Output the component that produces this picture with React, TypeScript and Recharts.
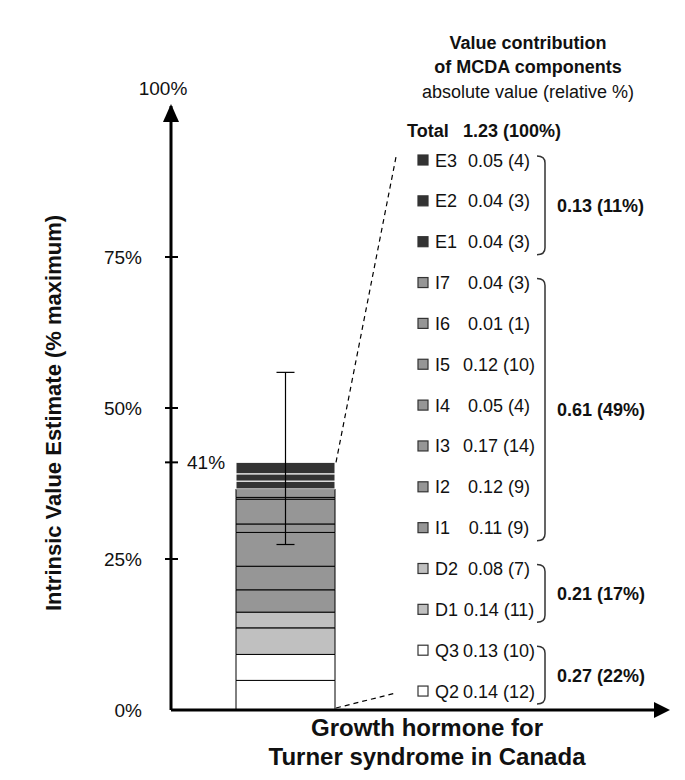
import { Bar, ComposedChart, ErrorBar, Scatter, XAxis, YAxis } from "recharts";

// one stacked column, segments bottom -> top
const categories = ["GH Turner Canada"];
const components = ["Q2", "Q3", "D1", "D2", "I1", "I2", "I3", "I4", "I5", "I6", "I7", "E1", "E2", "E3"];
const segmentPct = [4.9, 4.3, 4.4, 2.6, 3.7, 3.9, 5.6, 1.4, 4.1, 0.3, 1.4, 1.3, 1.2, 1.9];
const absValues = ["0.14", "0.13", "0.14", "0.08", "0.11", "0.12", "0.17", "0.05", "0.12", "0.01", "0.04", "0.04", "0.04", "0.05"];
const relPct = [12, 10, 11, 7, 9, 9, 14, 4, 10, 1, 3, 3, 3, 4];

const groupNames = ["Q", "D", "I", "E"];
const groupAbs = ["0.27", "0.21", "0.61", "0.13"];
const groupPct = [22, 17, 49, 11];

const totalPct = 41;
const totalAbs = "1.23";
const errLow = 27.4;
const errHigh = 55.9;
const yTicks = [0, 25, 41, 50, 75, 100];

const FILL: Record<string, string> = { Q: "#ffffff", D: "#c0c0c0", I: "#969696", E: "#333333" };
const STROKE: Record<string, string> = { Q: "#000", D: "#000", I: "#000", E: "#fff" };

const FONT = '"Liberation Sans", Arial, sans-serif';
const W = 685;
const H = 780;
const PLOT_TOP = 106;
const PLOT_BOTTOM = 710;
const AXIS_X = 171;
const X_END = 655;
const BAR_LEFT = 236;
const BAR_RIGHT = 335;

const ROW_TOP = 160;
const ROW_STEP = 40.85;

const row: Record<string, any> = { name: categories[0], total: totalPct, err: [totalPct - errLow, errHigh - totalPct] };
components.forEach((c, i) => (row[c] = segmentPct[i]));
const data = [row];

const yOf = (v: number) => PLOT_BOTTOM - (v / 100) * (PLOT_BOTTOM - PLOT_TOP);

function YTick({ x, y, payload }: any) {
  const v = payload.value;
  const mark = v > 0 && v < 100;
  let label;
  if (v === totalPct) {
    label = (
      <text x={x + 16} y={y} dy="0.36em" textAnchor="start">
        {v}%
      </text>
    );
  } else if (v === 100) {
    label = (
      <text x={x - 8} y={y - 18} dy="0.36em" textAnchor="middle">
        {v}%
      </text>
    );
  } else {
    label = (
      <text x={x - 29} y={y} dy="0.36em" textAnchor="end">
        {v}%
      </text>
    );
  }
  return (
    <g fontSize={19} fill="#111" fontFamily={FONT}>
      {mark && <line x1={x - 6} x2={x + 7} y1={y} y2={y} stroke="#000" strokeWidth={2} />}
      {label}
    </g>
  );
}

function Overlay() {
  const n = components.length;
  const rowY = (i: number) => ROW_TOP + (n - 1 - i) * ROW_STEP;
  return (
    <svg width={W} height={H} style={{ position: "absolute", left: 0, top: 0, pointerEvents: "none" }} fontFamily={FONT}>
      {/* axis arrows */}
      <polygon points={`${AXIS_X},104 ${AXIS_X - 8},122 ${AXIS_X + 8},122`} fill="#000" />
      <polygon points={`670,${PLOT_BOTTOM} ${X_END - 1},${PLOT_BOTTOM - 8} ${X_END - 1},${PLOT_BOTTOM + 8}`} fill="#000" />

      {/* axis titles */}
      <text
        x={53}
        y={413}
        transform="rotate(-90 53 413)"
        textAnchor="middle"
        dominantBaseline="central"
        fontSize={22}
        fontWeight="bold"
        fill="#111"
      >
        Intrinsic Value Estimate (% maximum)
      </text>
      <text x={427} y={736} textAnchor="middle" fontSize={24} fontWeight="bold" fill="#111">
        Growth hormone for
      </text>
      <text x={427} y={765} textAnchor="middle" fontSize={24} fontWeight="bold" fill="#111">
        Turner syndrome in Canada
      </text>

      {/* dashed leaders */}
      <line x1={BAR_RIGHT + 1} y1={yOf(totalPct)} x2={396} y2={157} stroke="#000" strokeWidth={1.2} strokeDasharray="5 4" />
      <line x1={BAR_RIGHT + 1} y1={PLOT_BOTTOM - 2} x2={396} y2={693} stroke="#000" strokeWidth={1.2} strokeDasharray="5 4" />

      {/* panel title */}
      <g fontSize={18} fill="#111" textAnchor="middle">
        <text x={528} y={49} fontWeight="bold">Value contribution</text>
        <text x={528} y={73} fontWeight="bold">of MCDA components</text>
        <text x={528} y={98}>absolute value (relative %)</text>
      </g>
      <g fontSize={18} fill="#111" fontWeight="bold">
        <text x={407} y={137}>Total</text>
        <text x={463} y={137}>
          {totalAbs} (100%)
        </text>
      </g>

      {/* legend rows */}
      {components.map((c, i) => {
        const g = c[0];
        const cy = rowY(i);
        return (
          <g key={c} fontSize={18} fill="#111">
            <rect x={418} y={cy - 5} width={10} height={10} fill={FILL[g]} stroke="#333" strokeWidth={1.2} />
            <text x={435} y={cy + 6.5}>{c}</text>
            <text x={499} y={cy + 6.5} textAnchor="middle">
              {absValues[i]} ({relPct[i]})
            </text>
          </g>
        );
      })}

      {/* group brackets */}
      {groupNames.map((g, gi) => {
        const idx = components.map((c, i) => (c[0] === g ? i : -1)).filter((i) => i >= 0);
        const yTop = Math.min(...idx.map(rowY)) - 4;
        const yBot = Math.max(...idx.map(rowY)) + 13;
        const mid = (yTop + yBot) / 2;
        return (
          <g key={g}>
            <path
              d={`M 537 ${yTop} Q 545 ${yTop} 545 ${yTop + 7} L 545 ${yBot - 7} Q 545 ${yBot} 537 ${yBot}`}
              fill="none"
              stroke="#333"
              strokeWidth={1.5}
            />
            <text x={557} y={mid + 6.5} fontSize={18} fontWeight="bold" fill="#111">
              {groupAbs[gi]} ({groupPct[gi]}%)
            </text>
          </g>
        );
      })}
    </svg>
  );
}

export default function App() {
  return (
    <div style={{ position: "absolute", left: 0, top: 0, width: W, height: H, background: "#fff", fontFamily: FONT }}>
      <ComposedChart width={W} height={H} data={data} margin={{ top: PLOT_TOP, right: W - X_END, bottom: 0, left: 0 }} barCategoryGap={0}>
        <XAxis
          dataKey="name"
          type="category"
          height={H - PLOT_BOTTOM}
          tick={false}
          tickLine={false}
          axisLine={{ stroke: "#000", strokeWidth: 3 }}
          padding={{ left: BAR_LEFT - AXIS_X, right: X_END - BAR_RIGHT }}
        />
        <YAxis
          type="number"
          domain={[0, 100]}
          ticks={yTicks}
          interval={0}
          width={AXIS_X}
          tickSize={0}
          tickMargin={0}
          tickLine={false}
          axisLine={{ stroke: "#000", strokeWidth: 3 }}
          tick={<YTick />}
        />
        {components.map((c) => (
          <Bar
            key={c}
            dataKey={c}
            stackId="mcda"
            fill={FILL[c[0]]}
            stroke={STROKE[c[0]]}
            strokeWidth={1}
            isAnimationActive={false}
          />
        ))}
        <Scatter dataKey="total" shape={() => <g />} isAnimationActive={false}>
          <ErrorBar dataKey="err" direction="y" width={9} stroke="#000" strokeWidth={1.2} />
        </Scatter>
      </ComposedChart>
      <Overlay />
    </div>
  );
}
